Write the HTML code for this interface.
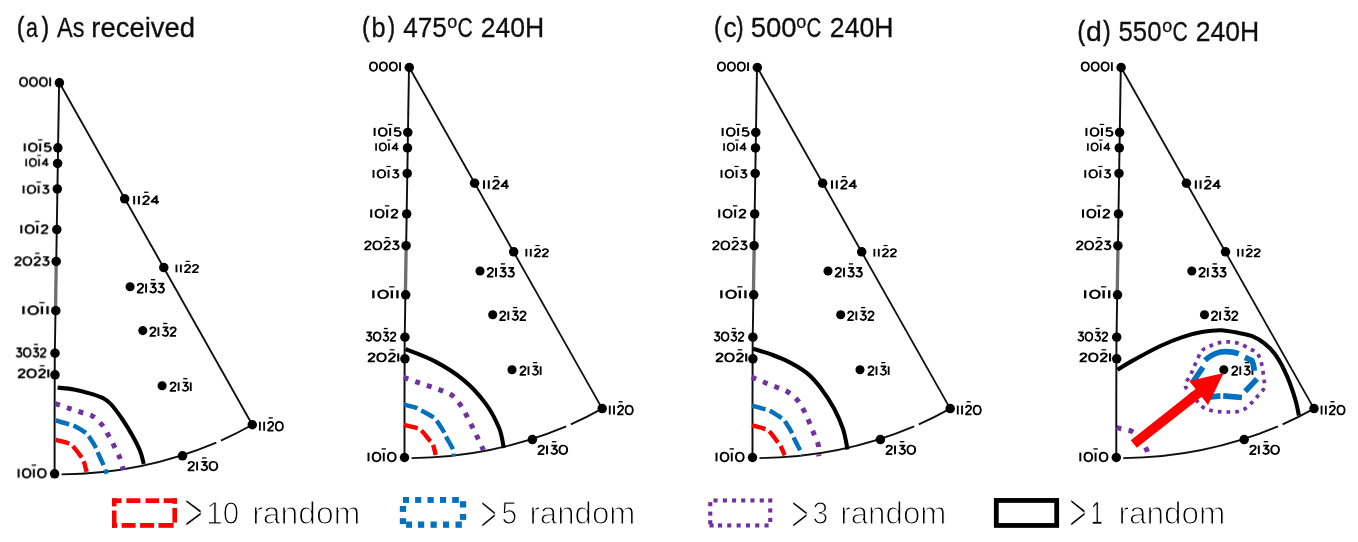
<!DOCTYPE html>
<html><head><meta charset="utf-8"><title>IPF</title>
<style>html,body{margin:0;padding:0;background:#fff;}body{width:1358px;height:542px;overflow:hidden;font-family:"Liberation Sans",sans-serif;}svg{display:block;will-change:transform;}text{font-family:"Liberation Sans",sans-serif;}</style>
</head><body>
<svg width="1358" height="542" viewBox="0 0 1358 542">
<defs><filter id="soft" x="-2%" y="-2%" width="104%" height="104%"><feGaussianBlur stdDeviation="0.5"/></filter><filter id="soft2" x="-2%" y="-10%" width="104%" height="120%"><feGaussianBlur stdDeviation="0.3"/></filter></defs>
<rect width="1358" height="542" fill="#fff"/>
<g filter="url(#soft)">
<g transform="translate(-349.9,15.13) scale(1,1.0025)"><g>
<g fill="none" stroke="#0a0a0a" stroke-width="1.8" stroke-linecap="butt">
<path d="M409.0,67.5 L406.15,247" stroke-width="1.9"/>
<path d="M406.15,247 L405.43,293" stroke-width="3.3" stroke="#6e6e6e"/>
<path d="M405.43,293 L404.65,342 L404.5,400 L404.5,457.5" stroke-width="1.9"/>
<path d="M409.3,67.5 L602.2,408.6"/>
<path d="M411.5,458.03 A405.49,405.49 0 0 0 566.2,426.40"/>
<path d="M570.8,424.43 A405.49,405.49 0 0 0 602.2,408.6"/>
</g>
<g fill="#000">
<circle cx="409.3" cy="67.5" r="4.75"/>
<circle cx="407.8" cy="132.4" r="4.75"/>
<circle cx="407.5" cy="147.9" r="4.75"/>
<circle cx="407.2" cy="173.4" r="4.75"/>
<circle cx="406.7" cy="213.9" r="4.75"/>
<circle cx="406.1" cy="245.7" r="4.75"/>
<circle cx="405.7" cy="294.8" r="4.75"/>
<circle cx="404.9" cy="337.2" r="4.75"/>
<circle cx="404.9" cy="358.8" r="4.75"/>
<circle cx="404.5" cy="457.5" r="4.75"/>
<circle cx="474.6" cy="183.2" r="4.75"/>
<circle cx="513.7" cy="251.8" r="4.75"/>
<circle cx="480.0" cy="271.0" r="4.55"/>
<circle cx="492.7" cy="314.7" r="4.55"/>
<circle cx="512.0" cy="369.7" r="4.55"/>
<circle cx="602.2" cy="408.6" r="4.75"/>
<circle cx="532.4" cy="439.6" r="4.75"/>
</g>
<g fill="none" stroke="#000" stroke-width="1.7" stroke-linecap="butt" stroke-linejoin="round">
<g transform="translate(369.20,70.94) scale(1.068,1.010)"><path d="M4,-8.55 C6.2,-8.55 7.35,-6.6 7.35,-4.3 C7.35,-2 6.2,-0.05 4,-0.05 C1.8,-0.05 0.65,-2 0.65,-4.3 C0.65,-6.6 1.8,-8.55 4,-8.55 Z" transform="translate(0.00,0)"/><path d="M4,-8.55 C6.2,-8.55 7.35,-6.6 7.35,-4.3 C7.35,-2 6.2,-0.05 4,-0.05 C1.8,-0.05 0.65,-2 0.65,-4.3 C0.65,-6.6 1.8,-8.55 4,-8.55 Z" transform="translate(9.30,0)"/><path d="M4,-8.55 C6.2,-8.55 7.35,-6.6 7.35,-4.3 C7.35,-2 6.2,-0.05 4,-0.05 C1.8,-0.05 0.65,-2 0.65,-4.3 C0.65,-6.6 1.8,-8.55 4,-8.55 Z" transform="translate(18.60,0)"/><path d="M1,-8.6 L1,0" transform="translate(27.90,0)"/></g>
<g transform="translate(373.45,135.91) scale(1.167,0.932)"><path d="M1,-8.6 L1,0" transform="translate(0.00,0)"/><path d="M4,-8.55 C6.2,-8.55 7.35,-6.6 7.35,-4.3 C7.35,-2 6.2,-0.05 4,-0.05 C1.8,-0.05 0.65,-2 0.65,-4.3 C0.65,-6.6 1.8,-8.55 4,-8.55 Z" transform="translate(4.00,0)"/><path d="M1,-8.6 L1,0" transform="translate(13.30,0)"/><path d="M12.40,-12.3 L16.20,-12.3" stroke-width="1.3"/><path d="M5.4,-8.5 L1.4,-8.5 L1.0,-4.8 C2.2,-5.8 6.0,-5.9 6.0,-2.7 C6.0,0.7 1.4,0.5 0.5,-1.5" transform="translate(17.30,0)"/></g>
<g transform="translate(375.11,150.76) scale(0.967,0.874)"><path d="M1,-8.6 L1,0" transform="translate(0.00,0)"/><path d="M4,-8.55 C6.2,-8.55 7.35,-6.6 7.35,-4.3 C7.35,-2 6.2,-0.05 4,-0.05 C1.8,-0.05 0.65,-2 0.65,-4.3 C0.65,-6.6 1.8,-8.55 4,-8.55 Z" transform="translate(4.00,0)"/><path d="M1,-8.6 L1,0" transform="translate(13.30,0)"/><path d="M12.40,-12.3 L16.20,-12.3" stroke-width="1.3"/><path d="M4.8,0 L4.8,-8.5 L0.5,-2.6 L6.8,-2.6" transform="translate(17.30,0)"/></g>
<g transform="translate(372.36,177.82) scale(1.132,0.922)"><path d="M1,-8.6 L1,0" transform="translate(0.00,0)"/><path d="M4,-8.55 C6.2,-8.55 7.35,-6.6 7.35,-4.3 C7.35,-2 6.2,-0.05 4,-0.05 C1.8,-0.05 0.65,-2 0.65,-4.3 C0.65,-6.6 1.8,-8.55 4,-8.55 Z" transform="translate(4.00,0)"/><path d="M1,-8.6 L1,0" transform="translate(13.30,0)"/><path d="M12.40,-12.3 L16.20,-12.3" stroke-width="1.3"/><path d="M0.8,-8.5 L5.3,-8.5 L2.7,-5.2 C6.8,-5.6 6.6,-0.1 3.1,-0.1 C1.6,-0.1 0.9,-0.8 0.5,-1.7" transform="translate(17.30,0)"/></g>
<g transform="translate(370.04,217.68) scale(1.197,0.961)"><path d="M1,-8.6 L1,0" transform="translate(0.00,0)"/><path d="M4,-8.55 C6.2,-8.55 7.35,-6.6 7.35,-4.3 C7.35,-2 6.2,-0.05 4,-0.05 C1.8,-0.05 0.65,-2 0.65,-4.3 C0.65,-6.6 1.8,-8.55 4,-8.55 Z" transform="translate(4.00,0)"/><path d="M1,-8.6 L1,0" transform="translate(13.30,0)"/><path d="M12.40,-12.3 L16.20,-12.3" stroke-width="1.3"/><path d="M0.8,-6.3 C0.9,-9.3 5.6,-9.3 5.5,-6.2 C5.4,-4.2 0.9,-2.2 0.7,-0.1 L5.8,-0.1" transform="translate(17.30,0)"/></g>
<g transform="translate(364.30,249.57) scale(1.166,0.971)"><path d="M0.8,-6.3 C0.9,-9.3 5.6,-9.3 5.5,-6.2 C5.4,-4.2 0.9,-2.2 0.7,-0.1 L5.8,-0.1" transform="translate(0.00,0)"/><path d="M4,-8.55 C6.2,-8.55 7.35,-6.6 7.35,-4.3 C7.35,-2 6.2,-0.05 4,-0.05 C1.8,-0.05 0.65,-2 0.65,-4.3 C0.65,-6.6 1.8,-8.55 4,-8.55 Z" transform="translate(7.20,0)"/><path d="M0.8,-6.3 C0.9,-9.3 5.6,-9.3 5.5,-6.2 C5.4,-4.2 0.9,-2.2 0.7,-0.1 L5.8,-0.1" transform="translate(16.50,0)"/><path d="M17.80,-12.3 L21.60,-12.3" stroke-width="1.3"/><path d="M0.8,-8.5 L5.3,-8.5 L2.7,-5.2 C6.8,-5.6 6.6,-0.1 3.1,-0.1 C1.6,-0.1 0.9,-0.8 0.5,-1.7" transform="translate(23.70,0)"/></g>
<g transform="translate(371.98,298.31) scale(1.390,0.932)"><path d="M1,-8.6 L1,0" transform="translate(0.00,0)"/><path d="M4,-8.55 C6.2,-8.55 7.35,-6.6 7.35,-4.3 C7.35,-2 6.2,-0.05 4,-0.05 C1.8,-0.05 0.65,-2 0.65,-4.3 C0.65,-6.6 1.8,-8.55 4,-8.55 Z" transform="translate(4.00,0)"/><path d="M1,-8.6 L1,0" transform="translate(13.30,0)"/><path d="M12.40,-12.3 L16.20,-12.3" stroke-width="1.3"/><path d="M1,-8.6 L1,0" transform="translate(17.30,0)"/></g>
<g transform="translate(365.70,340.94) scale(1.020,1.010)"><path d="M0.8,-8.5 L5.3,-8.5 L2.7,-5.2 C6.8,-5.6 6.6,-0.1 3.1,-0.1 C1.6,-0.1 0.9,-0.8 0.5,-1.7" transform="translate(0.00,0)"/><path d="M4,-8.55 C6.2,-8.55 7.35,-6.6 7.35,-4.3 C7.35,-2 6.2,-0.05 4,-0.05 C1.8,-0.05 0.65,-2 0.65,-4.3 C0.65,-6.6 1.8,-8.55 4,-8.55 Z" transform="translate(7.20,0)"/><path d="M0.8,-8.5 L5.3,-8.5 L2.7,-5.2 C6.8,-5.6 6.6,-0.1 3.1,-0.1 C1.6,-0.1 0.9,-0.8 0.5,-1.7" transform="translate(16.50,0)"/><path d="M17.80,-12.3 L21.60,-12.3" stroke-width="1.3"/><path d="M0.8,-6.3 C0.9,-9.3 5.6,-9.3 5.5,-6.2 C5.4,-4.2 0.9,-2.2 0.7,-0.1 L5.8,-0.1" transform="translate(23.70,0)"/></g>
<g transform="translate(367.70,361.49) scale(1.236,0.951)"><path d="M0.8,-6.3 C0.9,-9.3 5.6,-9.3 5.5,-6.2 C5.4,-4.2 0.9,-2.2 0.7,-0.1 L5.8,-0.1" transform="translate(0.00,0)"/><path d="M4,-8.55 C6.2,-8.55 7.35,-6.6 7.35,-4.3 C7.35,-2 6.2,-0.05 4,-0.05 C1.8,-0.05 0.65,-2 0.65,-4.3 C0.65,-6.6 1.8,-8.55 4,-8.55 Z" transform="translate(7.20,0)"/><path d="M0.8,-6.3 C0.9,-9.3 5.6,-9.3 5.5,-6.2 C5.4,-4.2 0.9,-2.2 0.7,-0.1 L5.8,-0.1" transform="translate(16.50,0)"/><path d="M17.80,-12.3 L21.60,-12.3" stroke-width="1.3"/><path d="M1,-8.6 L1,0" transform="translate(23.70,0)"/></g>
<g transform="translate(367.36,461.34) scale(1.148,1.010)"><path d="M1,-8.6 L1,0" transform="translate(0.00,0)"/><path d="M4,-8.55 C6.2,-8.55 7.35,-6.6 7.35,-4.3 C7.35,-2 6.2,-0.05 4,-0.05 C1.8,-0.05 0.65,-2 0.65,-4.3 C0.65,-6.6 1.8,-8.55 4,-8.55 Z" transform="translate(4.00,0)"/><path d="M1,-8.6 L1,0" transform="translate(13.30,0)"/><path d="M12.40,-12.3 L16.20,-12.3" stroke-width="1.3"/><path d="M4,-8.55 C6.2,-8.55 7.35,-6.6 7.35,-4.3 C7.35,-2 6.2,-0.05 4,-0.05 C1.8,-0.05 0.65,-2 0.65,-4.3 C0.65,-6.6 1.8,-8.55 4,-8.55 Z" transform="translate(17.30,0)"/></g>
<g transform="translate(482.85,188.77) scale(1.183,0.981)"><path d="M1,-8.6 L1,0" transform="translate(0.00,0)"/><path d="M1,-8.6 L1,0" transform="translate(4.00,0)"/><path d="M0.8,-6.3 C0.9,-9.3 5.6,-9.3 5.5,-6.2 C5.4,-4.2 0.9,-2.2 0.7,-0.1 L5.8,-0.1" transform="translate(8.00,0)"/><path d="M9.30,-12.3 L13.10,-12.3" stroke-width="1.3"/><path d="M4.8,0 L4.8,-8.5 L0.5,-2.6 L6.8,-2.6" transform="translate(15.20,0)"/></g>
<g transform="translate(525.27,256.54) scale(1.099,0.893)"><path d="M1,-8.6 L1,0" transform="translate(0.00,0)"/><path d="M1,-8.6 L1,0" transform="translate(4.00,0)"/><path d="M0.8,-6.3 C0.9,-9.3 5.6,-9.3 5.5,-6.2 C5.4,-4.2 0.9,-2.2 0.7,-0.1 L5.8,-0.1" transform="translate(8.00,0)"/><path d="M9.30,-12.3 L13.10,-12.3" stroke-width="1.3"/><path d="M0.8,-6.3 C0.9,-9.3 5.6,-9.3 5.5,-6.2 C5.4,-4.2 0.9,-2.2 0.7,-0.1 L5.8,-0.1" transform="translate(15.20,0)"/></g>
<g transform="translate(486.80,276.81) scale(1.121,1.049)"><path d="M0.8,-6.3 C0.9,-9.3 5.6,-9.3 5.5,-6.2 C5.4,-4.2 0.9,-2.2 0.7,-0.1 L5.8,-0.1" transform="translate(0.00,0)"/><path d="M1,-8.6 L1,0" transform="translate(7.20,0)"/><path d="M0.8,-8.5 L5.3,-8.5 L2.7,-5.2 C6.8,-5.6 6.6,-0.1 3.1,-0.1 C1.6,-0.1 0.9,-0.8 0.5,-1.7" transform="translate(11.20,0)"/><path d="M12.50,-12.3 L16.30,-12.3" stroke-width="1.3"/><path d="M0.8,-8.5 L5.3,-8.5 L2.7,-5.2 C6.8,-5.6 6.6,-0.1 3.1,-0.1 C1.6,-0.1 0.9,-0.8 0.5,-1.7" transform="translate(18.40,0)"/></g>
<g transform="translate(499.30,320.13) scale(1.101,1.019)"><path d="M0.8,-6.3 C0.9,-9.3 5.6,-9.3 5.5,-6.2 C5.4,-4.2 0.9,-2.2 0.7,-0.1 L5.8,-0.1" transform="translate(0.00,0)"/><path d="M1,-8.6 L1,0" transform="translate(7.20,0)"/><path d="M0.8,-8.5 L5.3,-8.5 L2.7,-5.2 C6.8,-5.6 6.6,-0.1 3.1,-0.1 C1.6,-0.1 0.9,-0.8 0.5,-1.7" transform="translate(11.20,0)"/><path d="M12.50,-12.3 L16.30,-12.3" stroke-width="1.3"/><path d="M0.8,-6.3 C0.9,-9.3 5.6,-9.3 5.5,-6.2 C5.4,-4.2 0.9,-2.2 0.7,-0.1 L5.8,-0.1" transform="translate(18.40,0)"/></g>
<g transform="translate(519.60,374.95) scale(1.085,1.000)"><path d="M0.8,-6.3 C0.9,-9.3 5.6,-9.3 5.5,-6.2 C5.4,-4.2 0.9,-2.2 0.7,-0.1 L5.8,-0.1" transform="translate(0.00,0)"/><path d="M1,-8.6 L1,0" transform="translate(7.20,0)"/><path d="M0.8,-8.5 L5.3,-8.5 L2.7,-5.2 C6.8,-5.6 6.6,-0.1 3.1,-0.1 C1.6,-0.1 0.9,-0.8 0.5,-1.7" transform="translate(11.20,0)"/><path d="M12.50,-12.3 L16.30,-12.3" stroke-width="1.3"/><path d="M1,-8.6 L1,0" transform="translate(18.40,0)"/></g>
<g transform="translate(608.68,414.52) scale(1.070,1.039)"><path d="M1,-8.6 L1,0" transform="translate(0.00,0)"/><path d="M1,-8.6 L1,0" transform="translate(4.00,0)"/><path d="M0.8,-6.3 C0.9,-9.3 5.6,-9.3 5.5,-6.2 C5.4,-4.2 0.9,-2.2 0.7,-0.1 L5.8,-0.1" transform="translate(8.00,0)"/><path d="M9.30,-12.3 L13.10,-12.3" stroke-width="1.3"/><path d="M4,-8.55 C6.2,-8.55 7.35,-6.6 7.35,-4.3 C7.35,-2 6.2,-0.05 4,-0.05 C1.8,-0.05 0.65,-2 0.65,-4.3 C0.65,-6.6 1.8,-8.55 4,-8.55 Z" transform="translate(15.20,0)"/></g>
<g transform="translate(537.60,454.14) scale(1.148,1.010)"><path d="M0.8,-6.3 C0.9,-9.3 5.6,-9.3 5.5,-6.2 C5.4,-4.2 0.9,-2.2 0.7,-0.1 L5.8,-0.1" transform="translate(0.00,0)"/><path d="M1,-8.6 L1,0" transform="translate(7.20,0)"/><path d="M0.8,-8.5 L5.3,-8.5 L2.7,-5.2 C6.8,-5.6 6.6,-0.1 3.1,-0.1 C1.6,-0.1 0.9,-0.8 0.5,-1.7" transform="translate(11.20,0)"/><path d="M12.50,-12.3 L16.30,-12.3" stroke-width="1.3"/><path d="M4,-8.55 C6.2,-8.55 7.35,-6.6 7.35,-4.3 C7.35,-2 6.2,-0.05 4,-0.05 C1.8,-0.05 0.65,-2 0.65,-4.3 C0.65,-6.6 1.8,-8.55 4,-8.55 Z" transform="translate(18.40,0)"/></g>
</g>
</g></g>
<g transform="translate(0,0)"><g>
<g fill="none" stroke="#0a0a0a" stroke-width="1.8" stroke-linecap="butt">
<path d="M409.0,67.5 L406.15,247" stroke-width="1.9"/>
<path d="M406.15,247 L405.43,293" stroke-width="3.3" stroke="#6e6e6e"/>
<path d="M405.43,293 L404.65,342 L404.5,400 L404.5,457.5" stroke-width="1.9"/>
<path d="M409.3,67.5 L602.2,408.6"/>
<path d="M411.5,458.03 A405.49,405.49 0 0 0 566.2,426.40"/>
<path d="M570.8,424.43 A405.49,405.49 0 0 0 602.2,408.6"/>
</g>
<g fill="#000">
<circle cx="409.3" cy="67.5" r="4.75"/>
<circle cx="407.8" cy="132.4" r="4.75"/>
<circle cx="407.5" cy="147.9" r="4.75"/>
<circle cx="407.2" cy="173.4" r="4.75"/>
<circle cx="406.7" cy="213.9" r="4.75"/>
<circle cx="406.1" cy="245.7" r="4.75"/>
<circle cx="405.7" cy="294.8" r="4.75"/>
<circle cx="404.9" cy="337.2" r="4.75"/>
<circle cx="404.9" cy="358.8" r="4.75"/>
<circle cx="404.5" cy="457.5" r="4.75"/>
<circle cx="474.6" cy="183.2" r="4.75"/>
<circle cx="513.7" cy="251.8" r="4.75"/>
<circle cx="480.0" cy="271.0" r="4.55"/>
<circle cx="492.7" cy="314.7" r="4.55"/>
<circle cx="512.0" cy="369.7" r="4.55"/>
<circle cx="602.2" cy="408.6" r="4.75"/>
<circle cx="532.4" cy="439.6" r="4.75"/>
</g>
<g fill="none" stroke="#000" stroke-width="1.7" stroke-linecap="butt" stroke-linejoin="round">
<g transform="translate(369.20,70.94) scale(1.068,1.010)"><path d="M4,-8.55 C6.2,-8.55 7.35,-6.6 7.35,-4.3 C7.35,-2 6.2,-0.05 4,-0.05 C1.8,-0.05 0.65,-2 0.65,-4.3 C0.65,-6.6 1.8,-8.55 4,-8.55 Z" transform="translate(0.00,0)"/><path d="M4,-8.55 C6.2,-8.55 7.35,-6.6 7.35,-4.3 C7.35,-2 6.2,-0.05 4,-0.05 C1.8,-0.05 0.65,-2 0.65,-4.3 C0.65,-6.6 1.8,-8.55 4,-8.55 Z" transform="translate(9.30,0)"/><path d="M4,-8.55 C6.2,-8.55 7.35,-6.6 7.35,-4.3 C7.35,-2 6.2,-0.05 4,-0.05 C1.8,-0.05 0.65,-2 0.65,-4.3 C0.65,-6.6 1.8,-8.55 4,-8.55 Z" transform="translate(18.60,0)"/><path d="M1,-8.6 L1,0" transform="translate(27.90,0)"/></g>
<g transform="translate(373.45,135.91) scale(1.167,0.932)"><path d="M1,-8.6 L1,0" transform="translate(0.00,0)"/><path d="M4,-8.55 C6.2,-8.55 7.35,-6.6 7.35,-4.3 C7.35,-2 6.2,-0.05 4,-0.05 C1.8,-0.05 0.65,-2 0.65,-4.3 C0.65,-6.6 1.8,-8.55 4,-8.55 Z" transform="translate(4.00,0)"/><path d="M1,-8.6 L1,0" transform="translate(13.30,0)"/><path d="M12.40,-12.3 L16.20,-12.3" stroke-width="1.3"/><path d="M5.4,-8.5 L1.4,-8.5 L1.0,-4.8 C2.2,-5.8 6.0,-5.9 6.0,-2.7 C6.0,0.7 1.4,0.5 0.5,-1.5" transform="translate(17.30,0)"/></g>
<g transform="translate(375.11,150.76) scale(0.967,0.874)"><path d="M1,-8.6 L1,0" transform="translate(0.00,0)"/><path d="M4,-8.55 C6.2,-8.55 7.35,-6.6 7.35,-4.3 C7.35,-2 6.2,-0.05 4,-0.05 C1.8,-0.05 0.65,-2 0.65,-4.3 C0.65,-6.6 1.8,-8.55 4,-8.55 Z" transform="translate(4.00,0)"/><path d="M1,-8.6 L1,0" transform="translate(13.30,0)"/><path d="M12.40,-12.3 L16.20,-12.3" stroke-width="1.3"/><path d="M4.8,0 L4.8,-8.5 L0.5,-2.6 L6.8,-2.6" transform="translate(17.30,0)"/></g>
<g transform="translate(372.36,177.82) scale(1.132,0.922)"><path d="M1,-8.6 L1,0" transform="translate(0.00,0)"/><path d="M4,-8.55 C6.2,-8.55 7.35,-6.6 7.35,-4.3 C7.35,-2 6.2,-0.05 4,-0.05 C1.8,-0.05 0.65,-2 0.65,-4.3 C0.65,-6.6 1.8,-8.55 4,-8.55 Z" transform="translate(4.00,0)"/><path d="M1,-8.6 L1,0" transform="translate(13.30,0)"/><path d="M12.40,-12.3 L16.20,-12.3" stroke-width="1.3"/><path d="M0.8,-8.5 L5.3,-8.5 L2.7,-5.2 C6.8,-5.6 6.6,-0.1 3.1,-0.1 C1.6,-0.1 0.9,-0.8 0.5,-1.7" transform="translate(17.30,0)"/></g>
<g transform="translate(370.04,217.68) scale(1.197,0.961)"><path d="M1,-8.6 L1,0" transform="translate(0.00,0)"/><path d="M4,-8.55 C6.2,-8.55 7.35,-6.6 7.35,-4.3 C7.35,-2 6.2,-0.05 4,-0.05 C1.8,-0.05 0.65,-2 0.65,-4.3 C0.65,-6.6 1.8,-8.55 4,-8.55 Z" transform="translate(4.00,0)"/><path d="M1,-8.6 L1,0" transform="translate(13.30,0)"/><path d="M12.40,-12.3 L16.20,-12.3" stroke-width="1.3"/><path d="M0.8,-6.3 C0.9,-9.3 5.6,-9.3 5.5,-6.2 C5.4,-4.2 0.9,-2.2 0.7,-0.1 L5.8,-0.1" transform="translate(17.30,0)"/></g>
<g transform="translate(364.30,249.57) scale(1.166,0.971)"><path d="M0.8,-6.3 C0.9,-9.3 5.6,-9.3 5.5,-6.2 C5.4,-4.2 0.9,-2.2 0.7,-0.1 L5.8,-0.1" transform="translate(0.00,0)"/><path d="M4,-8.55 C6.2,-8.55 7.35,-6.6 7.35,-4.3 C7.35,-2 6.2,-0.05 4,-0.05 C1.8,-0.05 0.65,-2 0.65,-4.3 C0.65,-6.6 1.8,-8.55 4,-8.55 Z" transform="translate(7.20,0)"/><path d="M0.8,-6.3 C0.9,-9.3 5.6,-9.3 5.5,-6.2 C5.4,-4.2 0.9,-2.2 0.7,-0.1 L5.8,-0.1" transform="translate(16.50,0)"/><path d="M17.80,-12.3 L21.60,-12.3" stroke-width="1.3"/><path d="M0.8,-8.5 L5.3,-8.5 L2.7,-5.2 C6.8,-5.6 6.6,-0.1 3.1,-0.1 C1.6,-0.1 0.9,-0.8 0.5,-1.7" transform="translate(23.70,0)"/></g>
<g transform="translate(371.98,298.31) scale(1.390,0.932)"><path d="M1,-8.6 L1,0" transform="translate(0.00,0)"/><path d="M4,-8.55 C6.2,-8.55 7.35,-6.6 7.35,-4.3 C7.35,-2 6.2,-0.05 4,-0.05 C1.8,-0.05 0.65,-2 0.65,-4.3 C0.65,-6.6 1.8,-8.55 4,-8.55 Z" transform="translate(4.00,0)"/><path d="M1,-8.6 L1,0" transform="translate(13.30,0)"/><path d="M12.40,-12.3 L16.20,-12.3" stroke-width="1.3"/><path d="M1,-8.6 L1,0" transform="translate(17.30,0)"/></g>
<g transform="translate(365.70,340.94) scale(1.020,1.010)"><path d="M0.8,-8.5 L5.3,-8.5 L2.7,-5.2 C6.8,-5.6 6.6,-0.1 3.1,-0.1 C1.6,-0.1 0.9,-0.8 0.5,-1.7" transform="translate(0.00,0)"/><path d="M4,-8.55 C6.2,-8.55 7.35,-6.6 7.35,-4.3 C7.35,-2 6.2,-0.05 4,-0.05 C1.8,-0.05 0.65,-2 0.65,-4.3 C0.65,-6.6 1.8,-8.55 4,-8.55 Z" transform="translate(7.20,0)"/><path d="M0.8,-8.5 L5.3,-8.5 L2.7,-5.2 C6.8,-5.6 6.6,-0.1 3.1,-0.1 C1.6,-0.1 0.9,-0.8 0.5,-1.7" transform="translate(16.50,0)"/><path d="M17.80,-12.3 L21.60,-12.3" stroke-width="1.3"/><path d="M0.8,-6.3 C0.9,-9.3 5.6,-9.3 5.5,-6.2 C5.4,-4.2 0.9,-2.2 0.7,-0.1 L5.8,-0.1" transform="translate(23.70,0)"/></g>
<g transform="translate(367.70,361.49) scale(1.236,0.951)"><path d="M0.8,-6.3 C0.9,-9.3 5.6,-9.3 5.5,-6.2 C5.4,-4.2 0.9,-2.2 0.7,-0.1 L5.8,-0.1" transform="translate(0.00,0)"/><path d="M4,-8.55 C6.2,-8.55 7.35,-6.6 7.35,-4.3 C7.35,-2 6.2,-0.05 4,-0.05 C1.8,-0.05 0.65,-2 0.65,-4.3 C0.65,-6.6 1.8,-8.55 4,-8.55 Z" transform="translate(7.20,0)"/><path d="M0.8,-6.3 C0.9,-9.3 5.6,-9.3 5.5,-6.2 C5.4,-4.2 0.9,-2.2 0.7,-0.1 L5.8,-0.1" transform="translate(16.50,0)"/><path d="M17.80,-12.3 L21.60,-12.3" stroke-width="1.3"/><path d="M1,-8.6 L1,0" transform="translate(23.70,0)"/></g>
<g transform="translate(367.36,461.34) scale(1.148,1.010)"><path d="M1,-8.6 L1,0" transform="translate(0.00,0)"/><path d="M4,-8.55 C6.2,-8.55 7.35,-6.6 7.35,-4.3 C7.35,-2 6.2,-0.05 4,-0.05 C1.8,-0.05 0.65,-2 0.65,-4.3 C0.65,-6.6 1.8,-8.55 4,-8.55 Z" transform="translate(4.00,0)"/><path d="M1,-8.6 L1,0" transform="translate(13.30,0)"/><path d="M12.40,-12.3 L16.20,-12.3" stroke-width="1.3"/><path d="M4,-8.55 C6.2,-8.55 7.35,-6.6 7.35,-4.3 C7.35,-2 6.2,-0.05 4,-0.05 C1.8,-0.05 0.65,-2 0.65,-4.3 C0.65,-6.6 1.8,-8.55 4,-8.55 Z" transform="translate(17.30,0)"/></g>
<g transform="translate(482.85,188.77) scale(1.183,0.981)"><path d="M1,-8.6 L1,0" transform="translate(0.00,0)"/><path d="M1,-8.6 L1,0" transform="translate(4.00,0)"/><path d="M0.8,-6.3 C0.9,-9.3 5.6,-9.3 5.5,-6.2 C5.4,-4.2 0.9,-2.2 0.7,-0.1 L5.8,-0.1" transform="translate(8.00,0)"/><path d="M9.30,-12.3 L13.10,-12.3" stroke-width="1.3"/><path d="M4.8,0 L4.8,-8.5 L0.5,-2.6 L6.8,-2.6" transform="translate(15.20,0)"/></g>
<g transform="translate(525.27,256.54) scale(1.099,0.893)"><path d="M1,-8.6 L1,0" transform="translate(0.00,0)"/><path d="M1,-8.6 L1,0" transform="translate(4.00,0)"/><path d="M0.8,-6.3 C0.9,-9.3 5.6,-9.3 5.5,-6.2 C5.4,-4.2 0.9,-2.2 0.7,-0.1 L5.8,-0.1" transform="translate(8.00,0)"/><path d="M9.30,-12.3 L13.10,-12.3" stroke-width="1.3"/><path d="M0.8,-6.3 C0.9,-9.3 5.6,-9.3 5.5,-6.2 C5.4,-4.2 0.9,-2.2 0.7,-0.1 L5.8,-0.1" transform="translate(15.20,0)"/></g>
<g transform="translate(486.80,276.81) scale(1.121,1.049)"><path d="M0.8,-6.3 C0.9,-9.3 5.6,-9.3 5.5,-6.2 C5.4,-4.2 0.9,-2.2 0.7,-0.1 L5.8,-0.1" transform="translate(0.00,0)"/><path d="M1,-8.6 L1,0" transform="translate(7.20,0)"/><path d="M0.8,-8.5 L5.3,-8.5 L2.7,-5.2 C6.8,-5.6 6.6,-0.1 3.1,-0.1 C1.6,-0.1 0.9,-0.8 0.5,-1.7" transform="translate(11.20,0)"/><path d="M12.50,-12.3 L16.30,-12.3" stroke-width="1.3"/><path d="M0.8,-8.5 L5.3,-8.5 L2.7,-5.2 C6.8,-5.6 6.6,-0.1 3.1,-0.1 C1.6,-0.1 0.9,-0.8 0.5,-1.7" transform="translate(18.40,0)"/></g>
<g transform="translate(499.30,320.13) scale(1.101,1.019)"><path d="M0.8,-6.3 C0.9,-9.3 5.6,-9.3 5.5,-6.2 C5.4,-4.2 0.9,-2.2 0.7,-0.1 L5.8,-0.1" transform="translate(0.00,0)"/><path d="M1,-8.6 L1,0" transform="translate(7.20,0)"/><path d="M0.8,-8.5 L5.3,-8.5 L2.7,-5.2 C6.8,-5.6 6.6,-0.1 3.1,-0.1 C1.6,-0.1 0.9,-0.8 0.5,-1.7" transform="translate(11.20,0)"/><path d="M12.50,-12.3 L16.30,-12.3" stroke-width="1.3"/><path d="M0.8,-6.3 C0.9,-9.3 5.6,-9.3 5.5,-6.2 C5.4,-4.2 0.9,-2.2 0.7,-0.1 L5.8,-0.1" transform="translate(18.40,0)"/></g>
<g transform="translate(519.60,374.95) scale(1.085,1.000)"><path d="M0.8,-6.3 C0.9,-9.3 5.6,-9.3 5.5,-6.2 C5.4,-4.2 0.9,-2.2 0.7,-0.1 L5.8,-0.1" transform="translate(0.00,0)"/><path d="M1,-8.6 L1,0" transform="translate(7.20,0)"/><path d="M0.8,-8.5 L5.3,-8.5 L2.7,-5.2 C6.8,-5.6 6.6,-0.1 3.1,-0.1 C1.6,-0.1 0.9,-0.8 0.5,-1.7" transform="translate(11.20,0)"/><path d="M12.50,-12.3 L16.30,-12.3" stroke-width="1.3"/><path d="M1,-8.6 L1,0" transform="translate(18.40,0)"/></g>
<g transform="translate(608.68,414.52) scale(1.070,1.039)"><path d="M1,-8.6 L1,0" transform="translate(0.00,0)"/><path d="M1,-8.6 L1,0" transform="translate(4.00,0)"/><path d="M0.8,-6.3 C0.9,-9.3 5.6,-9.3 5.5,-6.2 C5.4,-4.2 0.9,-2.2 0.7,-0.1 L5.8,-0.1" transform="translate(8.00,0)"/><path d="M9.30,-12.3 L13.10,-12.3" stroke-width="1.3"/><path d="M4,-8.55 C6.2,-8.55 7.35,-6.6 7.35,-4.3 C7.35,-2 6.2,-0.05 4,-0.05 C1.8,-0.05 0.65,-2 0.65,-4.3 C0.65,-6.6 1.8,-8.55 4,-8.55 Z" transform="translate(15.20,0)"/></g>
<g transform="translate(537.60,454.14) scale(1.148,1.010)"><path d="M0.8,-6.3 C0.9,-9.3 5.6,-9.3 5.5,-6.2 C5.4,-4.2 0.9,-2.2 0.7,-0.1 L5.8,-0.1" transform="translate(0.00,0)"/><path d="M1,-8.6 L1,0" transform="translate(7.20,0)"/><path d="M0.8,-8.5 L5.3,-8.5 L2.7,-5.2 C6.8,-5.6 6.6,-0.1 3.1,-0.1 C1.6,-0.1 0.9,-0.8 0.5,-1.7" transform="translate(11.20,0)"/><path d="M12.50,-12.3 L16.30,-12.3" stroke-width="1.3"/><path d="M4,-8.55 C6.2,-8.55 7.35,-6.6 7.35,-4.3 C7.35,-2 6.2,-0.05 4,-0.05 C1.8,-0.05 0.65,-2 0.65,-4.3 C0.65,-6.6 1.8,-8.55 4,-8.55 Z" transform="translate(18.40,0)"/></g>
</g>
</g></g>
<g transform="translate(348,0)"><g>
<g fill="none" stroke="#0a0a0a" stroke-width="1.8" stroke-linecap="butt">
<path d="M409.0,67.5 L406.15,247" stroke-width="1.9"/>
<path d="M406.15,247 L405.43,293" stroke-width="3.3" stroke="#6e6e6e"/>
<path d="M405.43,293 L404.65,342 L404.5,400 L404.5,457.5" stroke-width="1.9"/>
<path d="M409.3,67.5 L602.2,408.6"/>
<path d="M411.5,458.03 A405.49,405.49 0 0 0 566.2,426.40"/>
<path d="M570.8,424.43 A405.49,405.49 0 0 0 602.2,408.6"/>
</g>
<g fill="#000">
<circle cx="409.3" cy="67.5" r="4.75"/>
<circle cx="407.8" cy="132.4" r="4.75"/>
<circle cx="407.5" cy="147.9" r="4.75"/>
<circle cx="407.2" cy="173.4" r="4.75"/>
<circle cx="406.7" cy="213.9" r="4.75"/>
<circle cx="406.1" cy="245.7" r="4.75"/>
<circle cx="405.7" cy="294.8" r="4.75"/>
<circle cx="404.9" cy="337.2" r="4.75"/>
<circle cx="404.9" cy="358.8" r="4.75"/>
<circle cx="404.5" cy="457.5" r="4.75"/>
<circle cx="474.6" cy="183.2" r="4.75"/>
<circle cx="513.7" cy="251.8" r="4.75"/>
<circle cx="480.0" cy="271.0" r="4.55"/>
<circle cx="492.7" cy="314.7" r="4.55"/>
<circle cx="512.0" cy="369.7" r="4.55"/>
<circle cx="602.2" cy="408.6" r="4.75"/>
<circle cx="532.4" cy="439.6" r="4.75"/>
</g>
<g fill="none" stroke="#000" stroke-width="1.7" stroke-linecap="butt" stroke-linejoin="round">
<g transform="translate(369.20,70.94) scale(1.068,1.010)"><path d="M4,-8.55 C6.2,-8.55 7.35,-6.6 7.35,-4.3 C7.35,-2 6.2,-0.05 4,-0.05 C1.8,-0.05 0.65,-2 0.65,-4.3 C0.65,-6.6 1.8,-8.55 4,-8.55 Z" transform="translate(0.00,0)"/><path d="M4,-8.55 C6.2,-8.55 7.35,-6.6 7.35,-4.3 C7.35,-2 6.2,-0.05 4,-0.05 C1.8,-0.05 0.65,-2 0.65,-4.3 C0.65,-6.6 1.8,-8.55 4,-8.55 Z" transform="translate(9.30,0)"/><path d="M4,-8.55 C6.2,-8.55 7.35,-6.6 7.35,-4.3 C7.35,-2 6.2,-0.05 4,-0.05 C1.8,-0.05 0.65,-2 0.65,-4.3 C0.65,-6.6 1.8,-8.55 4,-8.55 Z" transform="translate(18.60,0)"/><path d="M1,-8.6 L1,0" transform="translate(27.90,0)"/></g>
<g transform="translate(373.45,135.91) scale(1.167,0.932)"><path d="M1,-8.6 L1,0" transform="translate(0.00,0)"/><path d="M4,-8.55 C6.2,-8.55 7.35,-6.6 7.35,-4.3 C7.35,-2 6.2,-0.05 4,-0.05 C1.8,-0.05 0.65,-2 0.65,-4.3 C0.65,-6.6 1.8,-8.55 4,-8.55 Z" transform="translate(4.00,0)"/><path d="M1,-8.6 L1,0" transform="translate(13.30,0)"/><path d="M12.40,-12.3 L16.20,-12.3" stroke-width="1.3"/><path d="M5.4,-8.5 L1.4,-8.5 L1.0,-4.8 C2.2,-5.8 6.0,-5.9 6.0,-2.7 C6.0,0.7 1.4,0.5 0.5,-1.5" transform="translate(17.30,0)"/></g>
<g transform="translate(375.11,150.76) scale(0.967,0.874)"><path d="M1,-8.6 L1,0" transform="translate(0.00,0)"/><path d="M4,-8.55 C6.2,-8.55 7.35,-6.6 7.35,-4.3 C7.35,-2 6.2,-0.05 4,-0.05 C1.8,-0.05 0.65,-2 0.65,-4.3 C0.65,-6.6 1.8,-8.55 4,-8.55 Z" transform="translate(4.00,0)"/><path d="M1,-8.6 L1,0" transform="translate(13.30,0)"/><path d="M12.40,-12.3 L16.20,-12.3" stroke-width="1.3"/><path d="M4.8,0 L4.8,-8.5 L0.5,-2.6 L6.8,-2.6" transform="translate(17.30,0)"/></g>
<g transform="translate(372.36,177.82) scale(1.132,0.922)"><path d="M1,-8.6 L1,0" transform="translate(0.00,0)"/><path d="M4,-8.55 C6.2,-8.55 7.35,-6.6 7.35,-4.3 C7.35,-2 6.2,-0.05 4,-0.05 C1.8,-0.05 0.65,-2 0.65,-4.3 C0.65,-6.6 1.8,-8.55 4,-8.55 Z" transform="translate(4.00,0)"/><path d="M1,-8.6 L1,0" transform="translate(13.30,0)"/><path d="M12.40,-12.3 L16.20,-12.3" stroke-width="1.3"/><path d="M0.8,-8.5 L5.3,-8.5 L2.7,-5.2 C6.8,-5.6 6.6,-0.1 3.1,-0.1 C1.6,-0.1 0.9,-0.8 0.5,-1.7" transform="translate(17.30,0)"/></g>
<g transform="translate(370.04,217.68) scale(1.197,0.961)"><path d="M1,-8.6 L1,0" transform="translate(0.00,0)"/><path d="M4,-8.55 C6.2,-8.55 7.35,-6.6 7.35,-4.3 C7.35,-2 6.2,-0.05 4,-0.05 C1.8,-0.05 0.65,-2 0.65,-4.3 C0.65,-6.6 1.8,-8.55 4,-8.55 Z" transform="translate(4.00,0)"/><path d="M1,-8.6 L1,0" transform="translate(13.30,0)"/><path d="M12.40,-12.3 L16.20,-12.3" stroke-width="1.3"/><path d="M0.8,-6.3 C0.9,-9.3 5.6,-9.3 5.5,-6.2 C5.4,-4.2 0.9,-2.2 0.7,-0.1 L5.8,-0.1" transform="translate(17.30,0)"/></g>
<g transform="translate(364.30,249.57) scale(1.166,0.971)"><path d="M0.8,-6.3 C0.9,-9.3 5.6,-9.3 5.5,-6.2 C5.4,-4.2 0.9,-2.2 0.7,-0.1 L5.8,-0.1" transform="translate(0.00,0)"/><path d="M4,-8.55 C6.2,-8.55 7.35,-6.6 7.35,-4.3 C7.35,-2 6.2,-0.05 4,-0.05 C1.8,-0.05 0.65,-2 0.65,-4.3 C0.65,-6.6 1.8,-8.55 4,-8.55 Z" transform="translate(7.20,0)"/><path d="M0.8,-6.3 C0.9,-9.3 5.6,-9.3 5.5,-6.2 C5.4,-4.2 0.9,-2.2 0.7,-0.1 L5.8,-0.1" transform="translate(16.50,0)"/><path d="M17.80,-12.3 L21.60,-12.3" stroke-width="1.3"/><path d="M0.8,-8.5 L5.3,-8.5 L2.7,-5.2 C6.8,-5.6 6.6,-0.1 3.1,-0.1 C1.6,-0.1 0.9,-0.8 0.5,-1.7" transform="translate(23.70,0)"/></g>
<g transform="translate(371.98,298.31) scale(1.390,0.932)"><path d="M1,-8.6 L1,0" transform="translate(0.00,0)"/><path d="M4,-8.55 C6.2,-8.55 7.35,-6.6 7.35,-4.3 C7.35,-2 6.2,-0.05 4,-0.05 C1.8,-0.05 0.65,-2 0.65,-4.3 C0.65,-6.6 1.8,-8.55 4,-8.55 Z" transform="translate(4.00,0)"/><path d="M1,-8.6 L1,0" transform="translate(13.30,0)"/><path d="M12.40,-12.3 L16.20,-12.3" stroke-width="1.3"/><path d="M1,-8.6 L1,0" transform="translate(17.30,0)"/></g>
<g transform="translate(365.70,340.94) scale(1.020,1.010)"><path d="M0.8,-8.5 L5.3,-8.5 L2.7,-5.2 C6.8,-5.6 6.6,-0.1 3.1,-0.1 C1.6,-0.1 0.9,-0.8 0.5,-1.7" transform="translate(0.00,0)"/><path d="M4,-8.55 C6.2,-8.55 7.35,-6.6 7.35,-4.3 C7.35,-2 6.2,-0.05 4,-0.05 C1.8,-0.05 0.65,-2 0.65,-4.3 C0.65,-6.6 1.8,-8.55 4,-8.55 Z" transform="translate(7.20,0)"/><path d="M0.8,-8.5 L5.3,-8.5 L2.7,-5.2 C6.8,-5.6 6.6,-0.1 3.1,-0.1 C1.6,-0.1 0.9,-0.8 0.5,-1.7" transform="translate(16.50,0)"/><path d="M17.80,-12.3 L21.60,-12.3" stroke-width="1.3"/><path d="M0.8,-6.3 C0.9,-9.3 5.6,-9.3 5.5,-6.2 C5.4,-4.2 0.9,-2.2 0.7,-0.1 L5.8,-0.1" transform="translate(23.70,0)"/></g>
<g transform="translate(367.70,361.49) scale(1.236,0.951)"><path d="M0.8,-6.3 C0.9,-9.3 5.6,-9.3 5.5,-6.2 C5.4,-4.2 0.9,-2.2 0.7,-0.1 L5.8,-0.1" transform="translate(0.00,0)"/><path d="M4,-8.55 C6.2,-8.55 7.35,-6.6 7.35,-4.3 C7.35,-2 6.2,-0.05 4,-0.05 C1.8,-0.05 0.65,-2 0.65,-4.3 C0.65,-6.6 1.8,-8.55 4,-8.55 Z" transform="translate(7.20,0)"/><path d="M0.8,-6.3 C0.9,-9.3 5.6,-9.3 5.5,-6.2 C5.4,-4.2 0.9,-2.2 0.7,-0.1 L5.8,-0.1" transform="translate(16.50,0)"/><path d="M17.80,-12.3 L21.60,-12.3" stroke-width="1.3"/><path d="M1,-8.6 L1,0" transform="translate(23.70,0)"/></g>
<g transform="translate(367.36,461.34) scale(1.148,1.010)"><path d="M1,-8.6 L1,0" transform="translate(0.00,0)"/><path d="M4,-8.55 C6.2,-8.55 7.35,-6.6 7.35,-4.3 C7.35,-2 6.2,-0.05 4,-0.05 C1.8,-0.05 0.65,-2 0.65,-4.3 C0.65,-6.6 1.8,-8.55 4,-8.55 Z" transform="translate(4.00,0)"/><path d="M1,-8.6 L1,0" transform="translate(13.30,0)"/><path d="M12.40,-12.3 L16.20,-12.3" stroke-width="1.3"/><path d="M4,-8.55 C6.2,-8.55 7.35,-6.6 7.35,-4.3 C7.35,-2 6.2,-0.05 4,-0.05 C1.8,-0.05 0.65,-2 0.65,-4.3 C0.65,-6.6 1.8,-8.55 4,-8.55 Z" transform="translate(17.30,0)"/></g>
<g transform="translate(482.85,188.77) scale(1.183,0.981)"><path d="M1,-8.6 L1,0" transform="translate(0.00,0)"/><path d="M1,-8.6 L1,0" transform="translate(4.00,0)"/><path d="M0.8,-6.3 C0.9,-9.3 5.6,-9.3 5.5,-6.2 C5.4,-4.2 0.9,-2.2 0.7,-0.1 L5.8,-0.1" transform="translate(8.00,0)"/><path d="M9.30,-12.3 L13.10,-12.3" stroke-width="1.3"/><path d="M4.8,0 L4.8,-8.5 L0.5,-2.6 L6.8,-2.6" transform="translate(15.20,0)"/></g>
<g transform="translate(525.27,256.54) scale(1.099,0.893)"><path d="M1,-8.6 L1,0" transform="translate(0.00,0)"/><path d="M1,-8.6 L1,0" transform="translate(4.00,0)"/><path d="M0.8,-6.3 C0.9,-9.3 5.6,-9.3 5.5,-6.2 C5.4,-4.2 0.9,-2.2 0.7,-0.1 L5.8,-0.1" transform="translate(8.00,0)"/><path d="M9.30,-12.3 L13.10,-12.3" stroke-width="1.3"/><path d="M0.8,-6.3 C0.9,-9.3 5.6,-9.3 5.5,-6.2 C5.4,-4.2 0.9,-2.2 0.7,-0.1 L5.8,-0.1" transform="translate(15.20,0)"/></g>
<g transform="translate(486.80,276.81) scale(1.121,1.049)"><path d="M0.8,-6.3 C0.9,-9.3 5.6,-9.3 5.5,-6.2 C5.4,-4.2 0.9,-2.2 0.7,-0.1 L5.8,-0.1" transform="translate(0.00,0)"/><path d="M1,-8.6 L1,0" transform="translate(7.20,0)"/><path d="M0.8,-8.5 L5.3,-8.5 L2.7,-5.2 C6.8,-5.6 6.6,-0.1 3.1,-0.1 C1.6,-0.1 0.9,-0.8 0.5,-1.7" transform="translate(11.20,0)"/><path d="M12.50,-12.3 L16.30,-12.3" stroke-width="1.3"/><path d="M0.8,-8.5 L5.3,-8.5 L2.7,-5.2 C6.8,-5.6 6.6,-0.1 3.1,-0.1 C1.6,-0.1 0.9,-0.8 0.5,-1.7" transform="translate(18.40,0)"/></g>
<g transform="translate(499.30,320.13) scale(1.101,1.019)"><path d="M0.8,-6.3 C0.9,-9.3 5.6,-9.3 5.5,-6.2 C5.4,-4.2 0.9,-2.2 0.7,-0.1 L5.8,-0.1" transform="translate(0.00,0)"/><path d="M1,-8.6 L1,0" transform="translate(7.20,0)"/><path d="M0.8,-8.5 L5.3,-8.5 L2.7,-5.2 C6.8,-5.6 6.6,-0.1 3.1,-0.1 C1.6,-0.1 0.9,-0.8 0.5,-1.7" transform="translate(11.20,0)"/><path d="M12.50,-12.3 L16.30,-12.3" stroke-width="1.3"/><path d="M0.8,-6.3 C0.9,-9.3 5.6,-9.3 5.5,-6.2 C5.4,-4.2 0.9,-2.2 0.7,-0.1 L5.8,-0.1" transform="translate(18.40,0)"/></g>
<g transform="translate(519.60,374.95) scale(1.085,1.000)"><path d="M0.8,-6.3 C0.9,-9.3 5.6,-9.3 5.5,-6.2 C5.4,-4.2 0.9,-2.2 0.7,-0.1 L5.8,-0.1" transform="translate(0.00,0)"/><path d="M1,-8.6 L1,0" transform="translate(7.20,0)"/><path d="M0.8,-8.5 L5.3,-8.5 L2.7,-5.2 C6.8,-5.6 6.6,-0.1 3.1,-0.1 C1.6,-0.1 0.9,-0.8 0.5,-1.7" transform="translate(11.20,0)"/><path d="M12.50,-12.3 L16.30,-12.3" stroke-width="1.3"/><path d="M1,-8.6 L1,0" transform="translate(18.40,0)"/></g>
<g transform="translate(608.68,414.52) scale(1.070,1.039)"><path d="M1,-8.6 L1,0" transform="translate(0.00,0)"/><path d="M1,-8.6 L1,0" transform="translate(4.00,0)"/><path d="M0.8,-6.3 C0.9,-9.3 5.6,-9.3 5.5,-6.2 C5.4,-4.2 0.9,-2.2 0.7,-0.1 L5.8,-0.1" transform="translate(8.00,0)"/><path d="M9.30,-12.3 L13.10,-12.3" stroke-width="1.3"/><path d="M4,-8.55 C6.2,-8.55 7.35,-6.6 7.35,-4.3 C7.35,-2 6.2,-0.05 4,-0.05 C1.8,-0.05 0.65,-2 0.65,-4.3 C0.65,-6.6 1.8,-8.55 4,-8.55 Z" transform="translate(15.20,0)"/></g>
<g transform="translate(537.60,454.14) scale(1.148,1.010)"><path d="M0.8,-6.3 C0.9,-9.3 5.6,-9.3 5.5,-6.2 C5.4,-4.2 0.9,-2.2 0.7,-0.1 L5.8,-0.1" transform="translate(0.00,0)"/><path d="M1,-8.6 L1,0" transform="translate(7.20,0)"/><path d="M0.8,-8.5 L5.3,-8.5 L2.7,-5.2 C6.8,-5.6 6.6,-0.1 3.1,-0.1 C1.6,-0.1 0.9,-0.8 0.5,-1.7" transform="translate(11.20,0)"/><path d="M12.50,-12.3 L16.30,-12.3" stroke-width="1.3"/><path d="M4,-8.55 C6.2,-8.55 7.35,-6.6 7.35,-4.3 C7.35,-2 6.2,-0.05 4,-0.05 C1.8,-0.05 0.65,-2 0.65,-4.3 C0.65,-6.6 1.8,-8.55 4,-8.55 Z" transform="translate(18.40,0)"/></g>
</g>
</g></g>
<g transform="translate(711.8,0)"><g>
<g fill="none" stroke="#0a0a0a" stroke-width="1.8" stroke-linecap="butt">
<path d="M409.0,67.5 L406.15,247" stroke-width="1.9"/>
<path d="M406.15,247 L405.43,293" stroke-width="3.3" stroke="#6e6e6e"/>
<path d="M405.43,293 L404.65,342 L404.5,400 L404.5,457.5" stroke-width="1.9"/>
<path d="M409.3,67.5 L602.2,408.6"/>
<path d="M411.5,458.03 A405.49,405.49 0 0 0 566.2,426.40"/>
<path d="M570.8,424.43 A405.49,405.49 0 0 0 602.2,408.6"/>
</g>
<g fill="#000">
<circle cx="409.3" cy="67.5" r="4.75"/>
<circle cx="407.8" cy="132.4" r="4.75"/>
<circle cx="407.5" cy="147.9" r="4.75"/>
<circle cx="407.2" cy="173.4" r="4.75"/>
<circle cx="406.7" cy="213.9" r="4.75"/>
<circle cx="406.1" cy="245.7" r="4.75"/>
<circle cx="405.7" cy="294.8" r="4.75"/>
<circle cx="404.9" cy="337.2" r="4.75"/>
<circle cx="404.9" cy="358.8" r="4.75"/>
<circle cx="404.5" cy="457.5" r="4.75"/>
<circle cx="474.6" cy="183.2" r="4.75"/>
<circle cx="513.7" cy="251.8" r="4.75"/>
<circle cx="480.0" cy="271.0" r="4.55"/>
<circle cx="492.7" cy="314.7" r="4.55"/>
<circle cx="512.0" cy="369.7" r="4.55"/>
<circle cx="602.2" cy="408.6" r="4.75"/>
<circle cx="532.4" cy="439.6" r="4.75"/>
</g>
<g fill="none" stroke="#000" stroke-width="1.7" stroke-linecap="butt" stroke-linejoin="round">
<g transform="translate(369.20,70.94) scale(1.068,1.010)"><path d="M4,-8.55 C6.2,-8.55 7.35,-6.6 7.35,-4.3 C7.35,-2 6.2,-0.05 4,-0.05 C1.8,-0.05 0.65,-2 0.65,-4.3 C0.65,-6.6 1.8,-8.55 4,-8.55 Z" transform="translate(0.00,0)"/><path d="M4,-8.55 C6.2,-8.55 7.35,-6.6 7.35,-4.3 C7.35,-2 6.2,-0.05 4,-0.05 C1.8,-0.05 0.65,-2 0.65,-4.3 C0.65,-6.6 1.8,-8.55 4,-8.55 Z" transform="translate(9.30,0)"/><path d="M4,-8.55 C6.2,-8.55 7.35,-6.6 7.35,-4.3 C7.35,-2 6.2,-0.05 4,-0.05 C1.8,-0.05 0.65,-2 0.65,-4.3 C0.65,-6.6 1.8,-8.55 4,-8.55 Z" transform="translate(18.60,0)"/><path d="M1,-8.6 L1,0" transform="translate(27.90,0)"/></g>
<g transform="translate(373.45,135.91) scale(1.167,0.932)"><path d="M1,-8.6 L1,0" transform="translate(0.00,0)"/><path d="M4,-8.55 C6.2,-8.55 7.35,-6.6 7.35,-4.3 C7.35,-2 6.2,-0.05 4,-0.05 C1.8,-0.05 0.65,-2 0.65,-4.3 C0.65,-6.6 1.8,-8.55 4,-8.55 Z" transform="translate(4.00,0)"/><path d="M1,-8.6 L1,0" transform="translate(13.30,0)"/><path d="M12.40,-12.3 L16.20,-12.3" stroke-width="1.3"/><path d="M5.4,-8.5 L1.4,-8.5 L1.0,-4.8 C2.2,-5.8 6.0,-5.9 6.0,-2.7 C6.0,0.7 1.4,0.5 0.5,-1.5" transform="translate(17.30,0)"/></g>
<g transform="translate(375.11,150.76) scale(0.967,0.874)"><path d="M1,-8.6 L1,0" transform="translate(0.00,0)"/><path d="M4,-8.55 C6.2,-8.55 7.35,-6.6 7.35,-4.3 C7.35,-2 6.2,-0.05 4,-0.05 C1.8,-0.05 0.65,-2 0.65,-4.3 C0.65,-6.6 1.8,-8.55 4,-8.55 Z" transform="translate(4.00,0)"/><path d="M1,-8.6 L1,0" transform="translate(13.30,0)"/><path d="M12.40,-12.3 L16.20,-12.3" stroke-width="1.3"/><path d="M4.8,0 L4.8,-8.5 L0.5,-2.6 L6.8,-2.6" transform="translate(17.30,0)"/></g>
<g transform="translate(372.36,177.82) scale(1.132,0.922)"><path d="M1,-8.6 L1,0" transform="translate(0.00,0)"/><path d="M4,-8.55 C6.2,-8.55 7.35,-6.6 7.35,-4.3 C7.35,-2 6.2,-0.05 4,-0.05 C1.8,-0.05 0.65,-2 0.65,-4.3 C0.65,-6.6 1.8,-8.55 4,-8.55 Z" transform="translate(4.00,0)"/><path d="M1,-8.6 L1,0" transform="translate(13.30,0)"/><path d="M12.40,-12.3 L16.20,-12.3" stroke-width="1.3"/><path d="M0.8,-8.5 L5.3,-8.5 L2.7,-5.2 C6.8,-5.6 6.6,-0.1 3.1,-0.1 C1.6,-0.1 0.9,-0.8 0.5,-1.7" transform="translate(17.30,0)"/></g>
<g transform="translate(370.04,217.68) scale(1.197,0.961)"><path d="M1,-8.6 L1,0" transform="translate(0.00,0)"/><path d="M4,-8.55 C6.2,-8.55 7.35,-6.6 7.35,-4.3 C7.35,-2 6.2,-0.05 4,-0.05 C1.8,-0.05 0.65,-2 0.65,-4.3 C0.65,-6.6 1.8,-8.55 4,-8.55 Z" transform="translate(4.00,0)"/><path d="M1,-8.6 L1,0" transform="translate(13.30,0)"/><path d="M12.40,-12.3 L16.20,-12.3" stroke-width="1.3"/><path d="M0.8,-6.3 C0.9,-9.3 5.6,-9.3 5.5,-6.2 C5.4,-4.2 0.9,-2.2 0.7,-0.1 L5.8,-0.1" transform="translate(17.30,0)"/></g>
<g transform="translate(364.30,249.57) scale(1.166,0.971)"><path d="M0.8,-6.3 C0.9,-9.3 5.6,-9.3 5.5,-6.2 C5.4,-4.2 0.9,-2.2 0.7,-0.1 L5.8,-0.1" transform="translate(0.00,0)"/><path d="M4,-8.55 C6.2,-8.55 7.35,-6.6 7.35,-4.3 C7.35,-2 6.2,-0.05 4,-0.05 C1.8,-0.05 0.65,-2 0.65,-4.3 C0.65,-6.6 1.8,-8.55 4,-8.55 Z" transform="translate(7.20,0)"/><path d="M0.8,-6.3 C0.9,-9.3 5.6,-9.3 5.5,-6.2 C5.4,-4.2 0.9,-2.2 0.7,-0.1 L5.8,-0.1" transform="translate(16.50,0)"/><path d="M17.80,-12.3 L21.60,-12.3" stroke-width="1.3"/><path d="M0.8,-8.5 L5.3,-8.5 L2.7,-5.2 C6.8,-5.6 6.6,-0.1 3.1,-0.1 C1.6,-0.1 0.9,-0.8 0.5,-1.7" transform="translate(23.70,0)"/></g>
<g transform="translate(371.98,298.31) scale(1.390,0.932)"><path d="M1,-8.6 L1,0" transform="translate(0.00,0)"/><path d="M4,-8.55 C6.2,-8.55 7.35,-6.6 7.35,-4.3 C7.35,-2 6.2,-0.05 4,-0.05 C1.8,-0.05 0.65,-2 0.65,-4.3 C0.65,-6.6 1.8,-8.55 4,-8.55 Z" transform="translate(4.00,0)"/><path d="M1,-8.6 L1,0" transform="translate(13.30,0)"/><path d="M12.40,-12.3 L16.20,-12.3" stroke-width="1.3"/><path d="M1,-8.6 L1,0" transform="translate(17.30,0)"/></g>
<g transform="translate(365.70,340.94) scale(1.020,1.010)"><path d="M0.8,-8.5 L5.3,-8.5 L2.7,-5.2 C6.8,-5.6 6.6,-0.1 3.1,-0.1 C1.6,-0.1 0.9,-0.8 0.5,-1.7" transform="translate(0.00,0)"/><path d="M4,-8.55 C6.2,-8.55 7.35,-6.6 7.35,-4.3 C7.35,-2 6.2,-0.05 4,-0.05 C1.8,-0.05 0.65,-2 0.65,-4.3 C0.65,-6.6 1.8,-8.55 4,-8.55 Z" transform="translate(7.20,0)"/><path d="M0.8,-8.5 L5.3,-8.5 L2.7,-5.2 C6.8,-5.6 6.6,-0.1 3.1,-0.1 C1.6,-0.1 0.9,-0.8 0.5,-1.7" transform="translate(16.50,0)"/><path d="M17.80,-12.3 L21.60,-12.3" stroke-width="1.3"/><path d="M0.8,-6.3 C0.9,-9.3 5.6,-9.3 5.5,-6.2 C5.4,-4.2 0.9,-2.2 0.7,-0.1 L5.8,-0.1" transform="translate(23.70,0)"/></g>
<g transform="translate(367.70,361.49) scale(1.236,0.951)"><path d="M0.8,-6.3 C0.9,-9.3 5.6,-9.3 5.5,-6.2 C5.4,-4.2 0.9,-2.2 0.7,-0.1 L5.8,-0.1" transform="translate(0.00,0)"/><path d="M4,-8.55 C6.2,-8.55 7.35,-6.6 7.35,-4.3 C7.35,-2 6.2,-0.05 4,-0.05 C1.8,-0.05 0.65,-2 0.65,-4.3 C0.65,-6.6 1.8,-8.55 4,-8.55 Z" transform="translate(7.20,0)"/><path d="M0.8,-6.3 C0.9,-9.3 5.6,-9.3 5.5,-6.2 C5.4,-4.2 0.9,-2.2 0.7,-0.1 L5.8,-0.1" transform="translate(16.50,0)"/><path d="M17.80,-12.3 L21.60,-12.3" stroke-width="1.3"/><path d="M1,-8.6 L1,0" transform="translate(23.70,0)"/></g>
<g transform="translate(367.36,461.34) scale(1.148,1.010)"><path d="M1,-8.6 L1,0" transform="translate(0.00,0)"/><path d="M4,-8.55 C6.2,-8.55 7.35,-6.6 7.35,-4.3 C7.35,-2 6.2,-0.05 4,-0.05 C1.8,-0.05 0.65,-2 0.65,-4.3 C0.65,-6.6 1.8,-8.55 4,-8.55 Z" transform="translate(4.00,0)"/><path d="M1,-8.6 L1,0" transform="translate(13.30,0)"/><path d="M12.40,-12.3 L16.20,-12.3" stroke-width="1.3"/><path d="M4,-8.55 C6.2,-8.55 7.35,-6.6 7.35,-4.3 C7.35,-2 6.2,-0.05 4,-0.05 C1.8,-0.05 0.65,-2 0.65,-4.3 C0.65,-6.6 1.8,-8.55 4,-8.55 Z" transform="translate(17.30,0)"/></g>
<g transform="translate(482.85,188.77) scale(1.183,0.981)"><path d="M1,-8.6 L1,0" transform="translate(0.00,0)"/><path d="M1,-8.6 L1,0" transform="translate(4.00,0)"/><path d="M0.8,-6.3 C0.9,-9.3 5.6,-9.3 5.5,-6.2 C5.4,-4.2 0.9,-2.2 0.7,-0.1 L5.8,-0.1" transform="translate(8.00,0)"/><path d="M9.30,-12.3 L13.10,-12.3" stroke-width="1.3"/><path d="M4.8,0 L4.8,-8.5 L0.5,-2.6 L6.8,-2.6" transform="translate(15.20,0)"/></g>
<g transform="translate(525.27,256.54) scale(1.099,0.893)"><path d="M1,-8.6 L1,0" transform="translate(0.00,0)"/><path d="M1,-8.6 L1,0" transform="translate(4.00,0)"/><path d="M0.8,-6.3 C0.9,-9.3 5.6,-9.3 5.5,-6.2 C5.4,-4.2 0.9,-2.2 0.7,-0.1 L5.8,-0.1" transform="translate(8.00,0)"/><path d="M9.30,-12.3 L13.10,-12.3" stroke-width="1.3"/><path d="M0.8,-6.3 C0.9,-9.3 5.6,-9.3 5.5,-6.2 C5.4,-4.2 0.9,-2.2 0.7,-0.1 L5.8,-0.1" transform="translate(15.20,0)"/></g>
<g transform="translate(486.80,276.81) scale(1.121,1.049)"><path d="M0.8,-6.3 C0.9,-9.3 5.6,-9.3 5.5,-6.2 C5.4,-4.2 0.9,-2.2 0.7,-0.1 L5.8,-0.1" transform="translate(0.00,0)"/><path d="M1,-8.6 L1,0" transform="translate(7.20,0)"/><path d="M0.8,-8.5 L5.3,-8.5 L2.7,-5.2 C6.8,-5.6 6.6,-0.1 3.1,-0.1 C1.6,-0.1 0.9,-0.8 0.5,-1.7" transform="translate(11.20,0)"/><path d="M12.50,-12.3 L16.30,-12.3" stroke-width="1.3"/><path d="M0.8,-8.5 L5.3,-8.5 L2.7,-5.2 C6.8,-5.6 6.6,-0.1 3.1,-0.1 C1.6,-0.1 0.9,-0.8 0.5,-1.7" transform="translate(18.40,0)"/></g>
<g transform="translate(499.30,320.13) scale(1.101,1.019)"><path d="M0.8,-6.3 C0.9,-9.3 5.6,-9.3 5.5,-6.2 C5.4,-4.2 0.9,-2.2 0.7,-0.1 L5.8,-0.1" transform="translate(0.00,0)"/><path d="M1,-8.6 L1,0" transform="translate(7.20,0)"/><path d="M0.8,-8.5 L5.3,-8.5 L2.7,-5.2 C6.8,-5.6 6.6,-0.1 3.1,-0.1 C1.6,-0.1 0.9,-0.8 0.5,-1.7" transform="translate(11.20,0)"/><path d="M12.50,-12.3 L16.30,-12.3" stroke-width="1.3"/><path d="M0.8,-6.3 C0.9,-9.3 5.6,-9.3 5.5,-6.2 C5.4,-4.2 0.9,-2.2 0.7,-0.1 L5.8,-0.1" transform="translate(18.40,0)"/></g>
<g transform="translate(519.60,374.95) scale(1.085,1.000)"><path d="M0.8,-6.3 C0.9,-9.3 5.6,-9.3 5.5,-6.2 C5.4,-4.2 0.9,-2.2 0.7,-0.1 L5.8,-0.1" transform="translate(0.00,0)"/><path d="M1,-8.6 L1,0" transform="translate(7.20,0)"/><path d="M0.8,-8.5 L5.3,-8.5 L2.7,-5.2 C6.8,-5.6 6.6,-0.1 3.1,-0.1 C1.6,-0.1 0.9,-0.8 0.5,-1.7" transform="translate(11.20,0)"/><path d="M12.50,-12.3 L16.30,-12.3" stroke-width="1.3"/><path d="M1,-8.6 L1,0" transform="translate(18.40,0)"/></g>
<g transform="translate(608.68,414.52) scale(1.070,1.039)"><path d="M1,-8.6 L1,0" transform="translate(0.00,0)"/><path d="M1,-8.6 L1,0" transform="translate(4.00,0)"/><path d="M0.8,-6.3 C0.9,-9.3 5.6,-9.3 5.5,-6.2 C5.4,-4.2 0.9,-2.2 0.7,-0.1 L5.8,-0.1" transform="translate(8.00,0)"/><path d="M9.30,-12.3 L13.10,-12.3" stroke-width="1.3"/><path d="M4,-8.55 C6.2,-8.55 7.35,-6.6 7.35,-4.3 C7.35,-2 6.2,-0.05 4,-0.05 C1.8,-0.05 0.65,-2 0.65,-4.3 C0.65,-6.6 1.8,-8.55 4,-8.55 Z" transform="translate(15.20,0)"/></g>
<g transform="translate(537.60,454.14) scale(1.148,1.010)"><path d="M0.8,-6.3 C0.9,-9.3 5.6,-9.3 5.5,-6.2 C5.4,-4.2 0.9,-2.2 0.7,-0.1 L5.8,-0.1" transform="translate(0.00,0)"/><path d="M1,-8.6 L1,0" transform="translate(7.20,0)"/><path d="M0.8,-8.5 L5.3,-8.5 L2.7,-5.2 C6.8,-5.6 6.6,-0.1 3.1,-0.1 C1.6,-0.1 0.9,-0.8 0.5,-1.7" transform="translate(11.20,0)"/><path d="M12.50,-12.3 L16.30,-12.3" stroke-width="1.3"/><path d="M4,-8.55 C6.2,-8.55 7.35,-6.6 7.35,-4.3 C7.35,-2 6.2,-0.05 4,-0.05 C1.8,-0.05 0.65,-2 0.65,-4.3 C0.65,-6.6 1.8,-8.55 4,-8.55 Z" transform="translate(18.40,0)"/></g>
</g>
</g></g>
<g fill="none" stroke-linecap="butt" stroke-linejoin="round">
<path d="M57.6,387.6 C60.3,387.9 68.7,388.5 74.0,389.5 C79.3,390.5 84.7,391.9 89.5,393.4 C94.3,394.8 99.5,396.4 103.1,398.2 C106.6,400.0 107.6,400.4 110.8,404.0 C114.0,407.6 119.0,414.3 122.5,419.5 C126.0,424.7 129.2,429.8 132.1,435.0 C135.0,440.2 137.9,445.6 139.9,450.5 C141.9,455.4 143.2,461.8 143.8,464.1" stroke="#000" stroke-width="4.1"/>
<path d="M55.2,403.6 C55.6,403.7 55.3,403.6 57.6,404.4 C59.9,405.2 65.3,407.0 69.2,408.3 C73.1,409.6 76.9,410.9 80.8,412.2 C84.7,413.5 88.9,414.0 92.4,416.1 C96.0,418.2 99.4,421.8 102.1,425.0 C104.8,428.2 106.5,431.8 108.5,435.4 C110.5,438.9 112.5,442.6 114.3,446.3 C116.1,450.0 118.2,453.9 119.6,457.3 C121.0,460.8 121.9,464.9 122.5,467.0 C123.1,469.1 123.2,469.2 123.3,469.7" stroke="#7030a0" stroke-width="5.0" stroke-dasharray="5.0 7.3"/>
<path d="M55.7,420.5 C58.0,421.1 66.2,423.5 69.2,424.4 C72.2,425.3 71.4,424.4 74.0,425.7 C76.6,427.0 82.3,430.4 84.7,432.1 C87.1,433.8 86.8,433.6 88.6,436.0 C90.4,438.4 93.8,444.0 95.3,446.6 C96.8,449.2 96.0,448.6 97.3,451.5 C98.6,454.4 101.6,460.7 103.1,464.1 C104.5,467.5 105.4,470.2 106.0,471.8 C106.6,473.4 106.6,473.4 106.7,473.7" stroke="#0070c0" stroke-width="4.4" stroke-dasharray="14 4.6"/>
<path d="M55.7,439.9 C57.8,440.4 65.3,442.1 68.2,443.2 C71.1,444.3 71.0,444.4 73.1,446.6 C75.2,448.8 79.0,453.9 80.8,456.3 C82.6,458.7 82.7,458.6 83.7,461.2 C84.7,463.8 86.1,470.0 86.6,471.8" stroke="#ff0000" stroke-width="4.4" stroke-dasharray="14 4.6"/>
<path d="M405.5,349.1 C410.5,351.2 425.8,356.5 435.4,361.6 C445.0,366.7 454.8,372.7 463.1,379.6 C471.4,386.5 479.3,395.0 485.3,403.1 C491.3,411.2 496.0,420.5 499.1,428.0 C502.2,435.5 503.0,444.7 503.8,448.0" stroke="#000" stroke-width="4.1"/>
<path d="M403.6,377.4 C404.0,377.5 403.7,377.4 406.0,378.2 C408.3,379.0 413.4,380.9 417.2,382.2 C421.0,383.5 425.1,384.8 429.0,386.1 C432.9,387.4 436.6,388.6 440.4,390.1 C444.2,391.6 448.4,392.7 451.7,395.1 C455.0,397.6 457.8,401.4 460.3,404.8 C462.8,408.2 464.6,411.9 466.6,415.5 C468.6,419.1 470.3,422.7 472.1,426.4 C473.9,430.1 475.9,434.2 477.6,437.7 C479.3,441.2 481.3,445.5 482.3,447.6 C483.3,449.7 483.3,449.7 483.5,450.1" stroke="#7030a0" stroke-width="5.0" stroke-dasharray="5.0 7.3"/>
<path d="M403.9,404.5 C405.7,405.0 412.1,406.4 414.9,407.3 C417.6,408.2 417.4,408.4 420.4,410.0 C423.4,411.6 430.2,415.2 432.9,417.0 C435.6,418.8 435.0,418.4 436.8,420.9 C438.6,423.4 442.4,429.4 443.9,431.9 C445.3,434.4 444.1,433.1 445.5,435.8 C446.9,438.6 451.2,445.4 452.5,448.4 C453.8,451.4 453.3,452.7 453.5,454.0 C453.7,455.3 453.8,455.6 453.9,456.0" stroke="#0070c0" stroke-width="4.4" stroke-dasharray="14 4.6"/>
<path d="M403.9,424.9 C405.9,425.4 412.8,426.8 415.7,427.7 C418.6,428.6 419.0,428.3 421.2,430.3 C423.4,432.3 427.1,437.3 429.0,439.7 C430.9,442.1 431.8,441.9 432.9,444.5 C434.0,447.1 435.2,453.2 435.7,455.0" stroke="#ff0000" stroke-width="4.4" stroke-dasharray="14 4.6"/>
<path d="M753.1,348.8 C756.4,349.8 766.4,352.6 772.7,355.0 C779.0,357.4 785.3,360.0 791.1,363.1 C796.9,366.2 802.3,369.2 807.3,373.4 C812.3,377.6 816.7,382.6 821.1,388.4 C825.5,394.2 830.1,401.3 833.8,408.0 C837.4,414.7 840.7,421.9 843.0,428.8 C845.3,435.7 846.8,446.1 847.6,449.5" stroke="#000" stroke-width="4.1"/>
<path d="M751.5,377.2 C751.9,377.3 751.5,377.2 753.8,378.1 C756.1,379.0 761.5,381.2 765.3,382.7 C769.1,384.2 773.1,385.8 776.8,387.3 C780.5,388.8 784.2,389.7 787.7,391.9 C791.2,394.1 794.9,397.3 797.6,400.4 C800.3,403.5 801.9,406.7 803.8,410.3 C805.7,413.9 807.5,418.0 809.1,421.9 C810.8,425.8 812.2,429.6 813.7,433.4 C815.2,437.2 817.4,441.5 818.3,444.9 C819.1,448.2 818.7,451.6 818.8,453.5 C818.9,455.4 818.9,455.8 819.0,456.3" stroke="#7030a0" stroke-width="5.0" stroke-dasharray="5.0 7.3"/>
<path d="M751.9,405.7 C754.0,406.3 761.5,408.3 764.6,409.2 C767.7,410.1 767.5,409.5 770.4,411.0 C773.3,412.5 779.4,416.6 781.9,418.4 C784.4,420.2 783.7,419.4 785.4,421.9 C787.1,424.4 790.9,430.7 792.3,433.4 C793.7,436.1 792.5,435.1 793.9,438.0 C795.2,440.9 799.1,448.1 800.4,450.7 C801.7,453.3 801.2,452.7 801.5,453.5 C801.8,454.3 802.1,455.1 802.2,455.4" stroke="#0070c0" stroke-width="4.4" stroke-dasharray="14 4.6"/>
<path d="M751.9,425.3 C754.0,425.9 761.7,427.8 764.6,428.8 C767.5,429.8 767.1,429.0 769.2,431.1 C771.3,433.2 775.4,439.0 777.3,441.5 C779.2,444.0 779.5,443.8 780.7,446.1 C781.9,448.4 784.0,453.8 784.7,455.3" stroke="#ff0000" stroke-width="4.4" stroke-dasharray="14 4.6"/>
<path d="M1117.4,369.7 C1119.9,368.2 1125.4,364.6 1132.6,360.6 C1139.8,356.7 1152.0,349.9 1160.3,346.0 C1168.6,342.1 1175.5,339.4 1182.4,337.1 C1189.3,334.8 1195.4,333.2 1201.8,332.1 C1208.2,331.0 1214.4,330.0 1220.8,330.2 C1227.2,330.4 1234.8,332.2 1240.0,333.2 C1245.2,334.2 1248.1,334.5 1252.2,336.2 C1256.3,337.9 1260.7,340.5 1264.4,343.4 C1268.1,346.3 1271.5,349.6 1274.5,353.5 C1277.5,357.4 1280.0,361.8 1282.6,366.7 C1285.1,371.6 1287.6,377.2 1289.8,383.0 C1292.0,388.8 1294.3,395.8 1295.8,401.2 C1297.3,406.6 1298.4,413.1 1298.9,415.5" stroke="#000" stroke-width="4.1"/>
<path d="M1202.1,350.5 C1204.1,348.3 1206.5,347.9 1208.8,346.8 C1211.1,345.7 1213.6,344.4 1216.1,343.6 C1218.5,342.8 1220.9,342.4 1223.5,342.1 C1226.1,341.9 1228.8,341.8 1231.6,342.1 C1234.4,342.4 1237.7,342.9 1240.5,343.9 C1243.3,344.9 1245.9,346.8 1248.6,348.3 C1251.3,349.8 1254.7,350.6 1256.7,352.7 C1258.7,354.8 1259.8,358.0 1260.8,360.8 C1261.8,363.6 1262.0,366.6 1262.6,369.7 C1263.1,372.8 1263.8,376.2 1264.1,379.3 C1264.3,382.4 1265.1,385.4 1264.1,388.1 C1263.1,390.8 1260.2,393.2 1258.2,395.5 C1256.2,397.8 1254.5,399.9 1252.3,402.1 C1250.1,404.3 1247.5,407.2 1244.9,408.8 C1242.3,410.4 1239.6,411.2 1236.8,411.7 C1234.0,412.2 1230.9,412.0 1227.9,412.0 C1225.0,412.0 1222.0,412.0 1219.1,411.7 C1216.1,411.4 1213.0,411.1 1210.2,410.3 C1207.4,409.5 1204.6,408.6 1202.1,406.6 C1199.6,404.6 1197.8,401.9 1195.0,398.5 C1192.2,395.1 1186.1,389.5 1185.2,385.9 C1184.3,382.3 1188.2,379.8 1189.6,377.0 C1190.9,374.2 1192.1,371.7 1193.3,368.9 C1194.5,366.1 1195.5,363.2 1197.0,360.1 C1198.5,357.0 1200.1,352.7 1202.1,350.5 Z" stroke="#7030a0" stroke-width="3.7" stroke-dasharray="3.7 5.0"/>
<path d="M1205,360.3 Q1211,354.6 1220,352.1 Q1229.6,350.7 1238.8,353.7" stroke="#0070c0" stroke-width="5.6"/>
<path d="M1244.9,357.4 L1252,360.6 Q1253.9,365 1254.3,370.8" stroke="#0070c0" stroke-width="5.6"/>
<path d="M1257.0,378.8 L1245.2,391.3" stroke="#0070c0" stroke-width="5.6"/>
<path d="M1241.9,397.5 L1223.2,395.9" stroke="#0070c0" stroke-width="5.6"/>
<path d="M1220.4,395.9 L1208,397.2" stroke="#0070c0" stroke-width="5.6"/>
<path d="M1192.5,382.5 L1203.0,367.2" stroke="#0070c0" stroke-width="5.6"/>
<path d="M1116.5,427.6 C1117.2,427.8 1118.5,428.2 1120.9,428.8 C1123.3,429.4 1127.9,429.6 1131.1,431.1 C1134.3,432.6 1137.4,434.8 1140.0,438.0 C1142.6,441.2 1145.4,447.1 1146.8,450.1 C1148.2,453.1 1148.2,455.0 1148.5,456.0" stroke="#7030a0" stroke-width="5.0" stroke-dasharray="5.0 7.3"/>
<polygon points="1136.8,447.8 1201.6,396.8 1208.0,404.9 1223.7,373.1 1189.2,381.0 1195.5,389.1 1130.8,440.2" fill="#ff0000" stroke="none"/>
</g>
<g fill="#111" stroke="#111" stroke-width="0.3">
<text><tspan x="17.04" y="36.10" font-size="28.0" textLength="7.28" lengthAdjust="spacingAndGlyphs" stroke-width="0.7">(</tspan><tspan x="25.89" y="36.60" font-size="27.0" textLength="11.91" lengthAdjust="spacingAndGlyphs">a</tspan><tspan x="41.87" y="36.10" font-size="28.0" textLength="7.16" lengthAdjust="spacingAndGlyphs" stroke-width="0.7">)</tspan> <tspan x="57.05" y="36.60" font-size="27.0" textLength="27.39" lengthAdjust="spacingAndGlyphs">As</tspan> <tspan x="91.38" y="36.60" font-size="27.0" textLength="103.59" lengthAdjust="spacingAndGlyphs">received</tspan></text>
<text><tspan x="362.24" y="36.10" font-size="28.0" textLength="7.28" lengthAdjust="spacingAndGlyphs" stroke-width="0.7">(</tspan><tspan x="371.47" y="36.60" font-size="27.0" textLength="14.10" lengthAdjust="spacingAndGlyphs">b</tspan><tspan x="388.08" y="36.10" font-size="28.0" textLength="6.91" lengthAdjust="spacingAndGlyphs" stroke-width="0.7">)</tspan> <tspan x="403.20" y="36.60" font-size="27.0" textLength="43.70" lengthAdjust="spacingAndGlyphs">475</tspan><tspan x="447.14" y="28.20" font-size="18.5" textLength="10.01" lengthAdjust="spacingAndGlyphs">o</tspan><tspan x="457.53" y="36.60" font-size="27.0" textLength="15.28" lengthAdjust="spacingAndGlyphs">C</tspan> <tspan x="480.66" y="36.60" font-size="27.0" textLength="63.50" lengthAdjust="spacingAndGlyphs">240H</tspan></text>
<text><tspan x="714.17" y="36.10" font-size="28.0" textLength="7.16" lengthAdjust="spacingAndGlyphs" stroke-width="0.7">(</tspan><tspan x="723.38" y="36.60" font-size="27.0" textLength="13.22" lengthAdjust="spacingAndGlyphs">c</tspan><tspan x="736.48" y="36.10" font-size="28.0" textLength="6.91" lengthAdjust="spacingAndGlyphs" stroke-width="0.7">)</tspan> <tspan x="750.70" y="36.60" font-size="27.0" textLength="45.87" lengthAdjust="spacingAndGlyphs">500</tspan><tspan x="796.24" y="28.20" font-size="18.5" textLength="10.01" lengthAdjust="spacingAndGlyphs">o</tspan><tspan x="806.56" y="36.60" font-size="27.0" textLength="14.82" lengthAdjust="spacingAndGlyphs">C</tspan> <tspan x="829.86" y="36.60" font-size="27.0" textLength="63.61" lengthAdjust="spacingAndGlyphs">240H</tspan></text>
<text><tspan x="1077.60" y="40.20" font-size="28.0" textLength="7.54" lengthAdjust="spacingAndGlyphs" stroke-width="0.7">(</tspan><tspan x="1086.10" y="40.70" font-size="27.0" textLength="15.83" lengthAdjust="spacingAndGlyphs">d</tspan><tspan x="1103.37" y="40.20" font-size="28.0" textLength="7.28" lengthAdjust="spacingAndGlyphs" stroke-width="0.7">)</tspan> <tspan x="1118.47" y="40.70" font-size="27.0" textLength="43.04" lengthAdjust="spacingAndGlyphs">550</tspan><tspan x="1162.14" y="32.30" font-size="18.5" textLength="10.01" lengthAdjust="spacingAndGlyphs">o</tspan><tspan x="1172.53" y="40.70" font-size="27.0" textLength="15.28" lengthAdjust="spacingAndGlyphs">C</tspan> <tspan x="1195.66" y="40.70" font-size="27.0" textLength="63.50" lengthAdjust="spacingAndGlyphs">240H</tspan></text>
</g>
<g fill="#ff0000">
<rect x="112.0" y="498.3" width="9.6" height="4.8"/>
<rect x="126.4" y="498.3" width="14.0" height="4.8"/>
<rect x="145.6" y="498.3" width="13.6" height="4.8"/>
<rect x="163.7" y="498.3" width="13.3" height="4.8"/>
<rect x="112.0" y="523.0" width="5.2" height="4.8"/>
<rect x="121.6" y="523.0" width="14.0" height="4.8"/>
<rect x="140.1" y="523.0" width="14.0" height="4.8"/>
<rect x="158.5" y="523.0" width="15.1" height="4.8"/>
<rect x="112.0" y="498.3" width="4.5" height="8.1"/>
<rect x="112.0" y="510.5" width="4.5" height="17.3"/>
<rect x="172.4" y="498.3" width="4.6" height="5.5"/>
<rect x="172.4" y="507.9" width="4.6" height="14.7"/>
</g>
<g fill="#0070c0">
<rect x="403.0" y="497.0" width="6.0" height="5.9"/>
<rect x="415.1" y="497.0" width="6.1" height="5.9"/>
<rect x="427.5" y="497.0" width="6.2" height="5.9"/>
<rect x="440.0" y="497.0" width="6.1" height="5.9"/>
<rect x="452.2" y="497.0" width="6.6" height="5.9"/>
<rect x="459.9" y="501.2" width="6.3" height="6.3"/>
<rect x="459.9" y="514.0" width="6.3" height="5.9"/>
<rect x="455.5" y="521.5" width="6.3" height="6.3"/>
<rect x="443.0" y="521.5" width="6.0" height="6.3"/>
<rect x="430.6" y="521.5" width="6.1" height="6.3"/>
<rect x="418.0" y="521.5" width="6.2" height="6.3"/>
<rect x="406.1" y="521.5" width="5.9" height="6.3"/>
<rect x="399.8" y="518.2" width="6.3" height="5.9"/>
<rect x="399.8" y="506.0" width="6.3" height="5.9"/>
</g>
<g fill="#7030a0">
<rect x="713.5" y="498.4" width="4.1" height="4.1"/>
<rect x="722.8" y="498.4" width="4.1" height="4.1"/>
<rect x="732.0" y="498.4" width="4.1" height="4.1"/>
<rect x="741.2" y="498.4" width="4.1" height="4.1"/>
<rect x="750.4" y="498.4" width="4.1" height="4.1"/>
<rect x="759.7" y="498.4" width="4.1" height="4.1"/>
<rect x="768.2" y="498.4" width="4.1" height="4.1"/>
<rect x="768.2" y="508.4" width="4.1" height="4.1"/>
<rect x="768.2" y="517.9" width="4.1" height="4.1"/>
<rect x="764.5" y="523.4" width="4.1" height="4.1"/>
<rect x="755.2" y="523.4" width="4.1" height="4.1"/>
<rect x="745.9" y="523.4" width="4.1" height="4.1"/>
<rect x="736.6" y="523.4" width="4.1" height="4.1"/>
<rect x="727.2" y="523.4" width="4.1" height="4.1"/>
<rect x="718.0" y="523.4" width="4.1" height="4.1"/>
<rect x="709.5" y="523.4" width="4.1" height="4.1"/>
<rect x="708.2" y="502.1" width="4.1" height="4.1"/>
<rect x="708.2" y="511.6" width="4.1" height="4.1"/>
<rect x="708.2" y="520.2" width="4.1" height="4.1"/>
</g>
<rect x="996.3" y="500.45" width="60.4" height="25.0" fill="none" stroke="#000" stroke-width="4.8"/>
<g fill="#000" stroke="#fff" stroke-width="1.1" filter="url(#soft2)">
<text transform="translate(184.24,530.92) scale(1.023,1.766)" font-size="31.0">&gt;</text>
<text><tspan x="206.35" y="523.90" font-size="31.0" textLength="32.80" lengthAdjust="spacingAndGlyphs">10</tspan> <tspan x="252.18" y="523.90" font-size="31.0" textLength="108.12" lengthAdjust="spacingAndGlyphs">random</tspan></text>
<text transform="translate(480.44,532.11) scale(0.890,1.721)" font-size="31.0">&gt;</text>
<text><tspan x="501.47" y="523.90" font-size="31.0" textLength="15.72" lengthAdjust="spacingAndGlyphs">5</tspan> <tspan x="529.43" y="523.90" font-size="31.0" textLength="105.93" lengthAdjust="spacingAndGlyphs">random</tspan></text>
<text transform="translate(791.24,532.11) scale(0.956,1.721)" font-size="31.0">&gt;</text>
<text><tspan x="812.52" y="523.90" font-size="31.0" textLength="15.72" lengthAdjust="spacingAndGlyphs">3</tspan> <tspan x="840.32" y="523.90" font-size="31.0" textLength="106.04" lengthAdjust="spacingAndGlyphs">random</tspan></text>
<text transform="translate(1069.34,530.92) scale(0.956,1.766)" font-size="31.0">&gt;</text>
<text><tspan x="1091.01" y="523.90" font-size="31.0" textLength="11.61" lengthAdjust="spacingAndGlyphs" stroke-width="0.5">1</tspan> <tspan x="1118.40" y="523.90" font-size="31.0" textLength="106.97" lengthAdjust="spacingAndGlyphs">random</tspan></text>
</g>
</svg></body></html>
